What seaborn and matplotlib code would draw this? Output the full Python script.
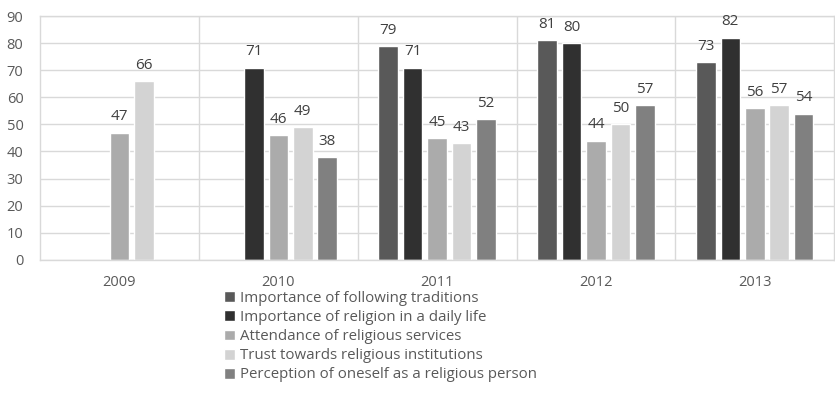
import numpy as np
import pandas as pd
import matplotlib
matplotlib.use("Agg")
import matplotlib.pyplot as plt
import seaborn as sns

years = ["2009", "2010", "2011", "2012", "2013"]
series = [
    "Importance of following traditions",
    "Importance of religion in a daily life",
    "Attendance of religious services",
    "Trust towards religious institutions",
    "Perception of oneself as a religious person",
]
traditions = [np.nan, np.nan, 79, 81, 73]
religion_daily = [np.nan, 71, 71, 80, 82]
attendance = [47, 46, 45, 44, 56]
trust = [66, 49, 43, 50, 57]
perception = [np.nan, 38, 52, 57, 54]
colors = ["#595959", "#303030", "#ababab", "#d3d3d3", "#808080"]

rows = []
for name, vals in zip(series, [traditions, religion_daily, attendance, trust, perception]):
    for y, v in zip(years, vals):
        rows.append({"year": y, "series": name, "value": v})
df = pd.DataFrame(rows)

sns.set_theme(style="white")
plt.rcParams["font.family"] = ["Open Sans", "DejaVu Sans"]

fig = plt.figure(figsize=(8.35, 4.01), dpi=100)
ax = fig.add_axes([0.048, 0.352, 0.951, 0.608])

sns.barplot(data=df, x="year", y="value", hue="series", hue_order=series,
            order=years, palette=colors, width=0.77, gap=0.2, saturation=1,
            errorbar=None, ax=ax, legend=True)

for cont in ax.containers:
    ax.bar_label(cont, fmt="%d", padding=6, fontsize=11, color="#404040")

ax.set_ylim(0, 90)
ax.set_yticks(range(0, 91, 10))
ax.set_xlim(-0.5, 4.5)
ax.set_xticks(np.arange(0.5, 4.5, 1), minor=True)
ax.grid(True, axis="y", color="#d9d9d9", linewidth=1)
ax.grid(True, axis="x", which="minor", color="#d9d9d9", linewidth=1)
ax.grid(False, axis="x", which="major")
ax.set_axisbelow(True)
for s in ax.spines.values():
    s.set_color("#d9d9d9")
    s.set_linewidth(1)
ax.set_xlabel("")
ax.set_ylabel("")
ax.tick_params(axis="both", which="both", length=0, labelsize=10.5, colors="#595959")
ax.tick_params(axis="x", pad=11)
ax.tick_params(axis="y", pad=12)

handles, labels = ax.get_legend_handles_labels()
ax.legend_.remove()
fig.legend(handles, labels, loc="upper left", bbox_to_anchor=(0.268, 0.274),
           frameon=False, fontsize=10.8, labelcolor="#595959",
           handlelength=0.75, handleheight=0.75, handletextpad=0.3,
           labelspacing=0.27, borderaxespad=0, borderpad=0)

fig.savefig("out.png", dpi=100)
